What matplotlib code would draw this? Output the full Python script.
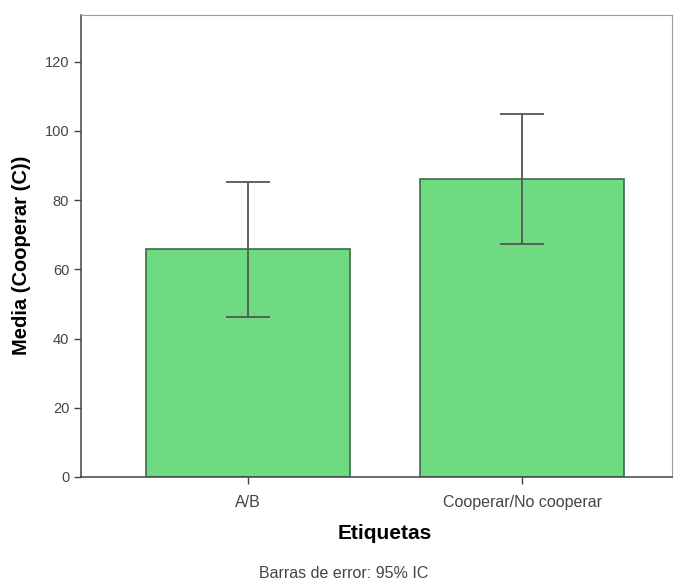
import matplotlib.pyplot as plt

plt.rcParams['font.family'] = ['Liberation Sans', 'DejaVu Sans']

etiquetas = ["A/B", "Cooperar/No cooperar"]
medias = [65.8, 86.0]
ic_inf = [46.3, 67.3]
ic_sup = [85.1, 104.9]

err_low = [m - lo for m, lo in zip(medias, ic_inf)]
err_high = [hi - m for m, hi in zip(medias, ic_sup)]

fig = plt.figure(figsize=(6.77, 5.81), dpi=100)
ax = fig.add_axes([81 / 677, 1 - 477 / 581, 591 / 677, 462 / 581])

pos = range(len(etiquetas))
ax.bar(pos, medias, width=0.745, color="#6fdb80", edgecolor="#3d6b45", linewidth=1.2)
ax.errorbar(pos, medias, yerr=[err_low, err_high], fmt="none",
            ecolor="#555555", elinewidth=1.3, capsize=15.5, capthick=1.3)

ax.set_xlim(-0.609, 1.547)
ax.set_ylim(0, 133.5)
ax.set_yticks([0, 20, 40, 60, 80, 100, 120])
ax.set_xticks(list(pos))
ax.set_xticklabels(etiquetas)
ax.tick_params(axis="both", labelsize=11.5, colors="#444444", length=5, width=1)
ax.tick_params(axis="x", pad=8)
ax.tick_params(axis="y", labelsize=10.5)

for s in ["top", "right"]:
    ax.spines[s].set_color("#999999")
for s in ["left", "bottom"]:
    ax.spines[s].set_color("#444444")
    ax.spines[s].set_linewidth(1.1)

ax.set_ylabel("Media (Cooperar (C))", fontsize=14.5, fontweight="bold")
ax.yaxis.set_label_coords(-50 / 591, (477 - 255) / 462)
ax.set_xlabel("Etiquetas", fontsize=15, fontweight="bold")
ax.xaxis.set_label_coords((385 - 81) / 591, -(524 - 477) / 462)

fig.text(344 / 677, 1 - 573 / 581, "Barras de error: 95% IC", ha="center", va="center",
         fontsize=11.5, color="#444444")

fig.savefig("out.png", dpi=100)
